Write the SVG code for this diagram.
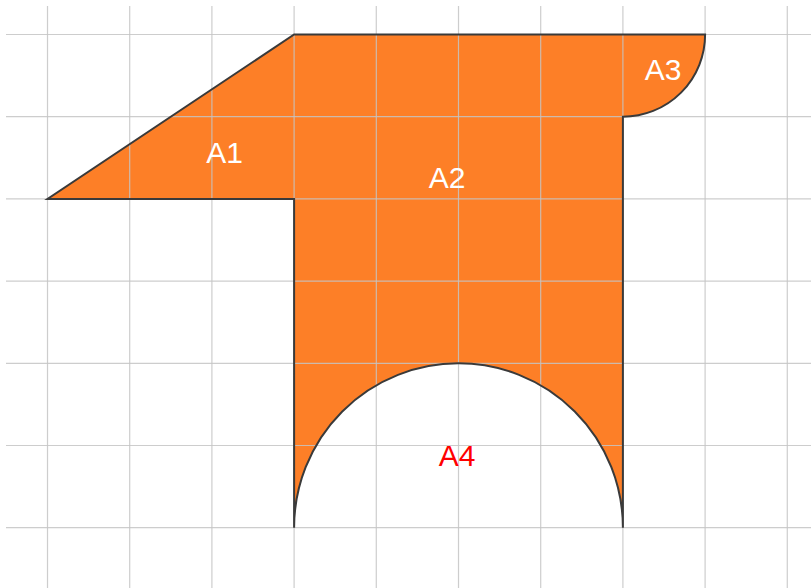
<svg xmlns="http://www.w3.org/2000/svg" width="811" height="588" viewBox="0 0 811 588">
<style>
.grid line{stroke:#c4c4c4;stroke-width:1.2;stroke-opacity:0.85}
.lbl{font-family:"Liberation Sans",Arial,sans-serif;font-size:30px;text-anchor:middle}
</style>
<rect width="811" height="588" fill="#ffffff"/>
<g id="shape-fill">
<path d="M294.1,34.5 L705.1,34.5 A82.2,82.2 0 0 1 622.9,116.7 L622.9,527.7 A164.4,164.4 0 0 0 294.1,527.7 L294.1,198.9 L47.5,198.9 Z" fill="#fd7f27"/>
</g>
<g class="grid" id="grid">
<line x1="47.5" y1="6" x2="47.5" y2="588"/>
<line x1="129.7" y1="6" x2="129.7" y2="588"/>
<line x1="211.9" y1="6" x2="211.9" y2="588"/>
<line x1="294.1" y1="6" x2="294.1" y2="588"/>
<line x1="376.3" y1="6" x2="376.3" y2="588"/>
<line x1="458.5" y1="6" x2="458.5" y2="588"/>
<line x1="540.7" y1="6" x2="540.7" y2="588"/>
<line x1="622.9" y1="6" x2="622.9" y2="588"/>
<line x1="705.1" y1="6" x2="705.1" y2="588"/>
<line x1="787.3" y1="6" x2="787.3" y2="588"/>
<line x1="6" y1="34.5" x2="811" y2="34.5"/>
<line x1="6" y1="116.7" x2="811" y2="116.7"/>
<line x1="6" y1="198.9" x2="811" y2="198.9"/>
<line x1="6" y1="281.1" x2="811" y2="281.1"/>
<line x1="6" y1="363.3" x2="811" y2="363.3"/>
<line x1="6" y1="445.5" x2="811" y2="445.5"/>
<line x1="6" y1="527.7" x2="811" y2="527.7"/>
</g>
<g id="shape-outline">
<path d="M294.1,34.5 L705.1,34.5 A82.2,82.2 0 0 1 622.9,116.7 L622.9,527.7 A164.4,164.4 0 0 0 294.1,527.7 L294.1,198.9 L47.5,198.9 Z" fill="none" stroke="#3a3a3a" stroke-width="2" stroke-linejoin="miter"/>
</g>
<g id="labels">
<text class="lbl" x="224.5" y="163" fill="#ffffff">A1</text>
<text class="lbl" x="447" y="187.5" fill="#ffffff">A2</text>
<text class="lbl" x="663" y="80" fill="#ffffff">A3</text>
<text class="lbl" x="457" y="466" fill="#ff0000">A4</text>
</g>
</svg>
